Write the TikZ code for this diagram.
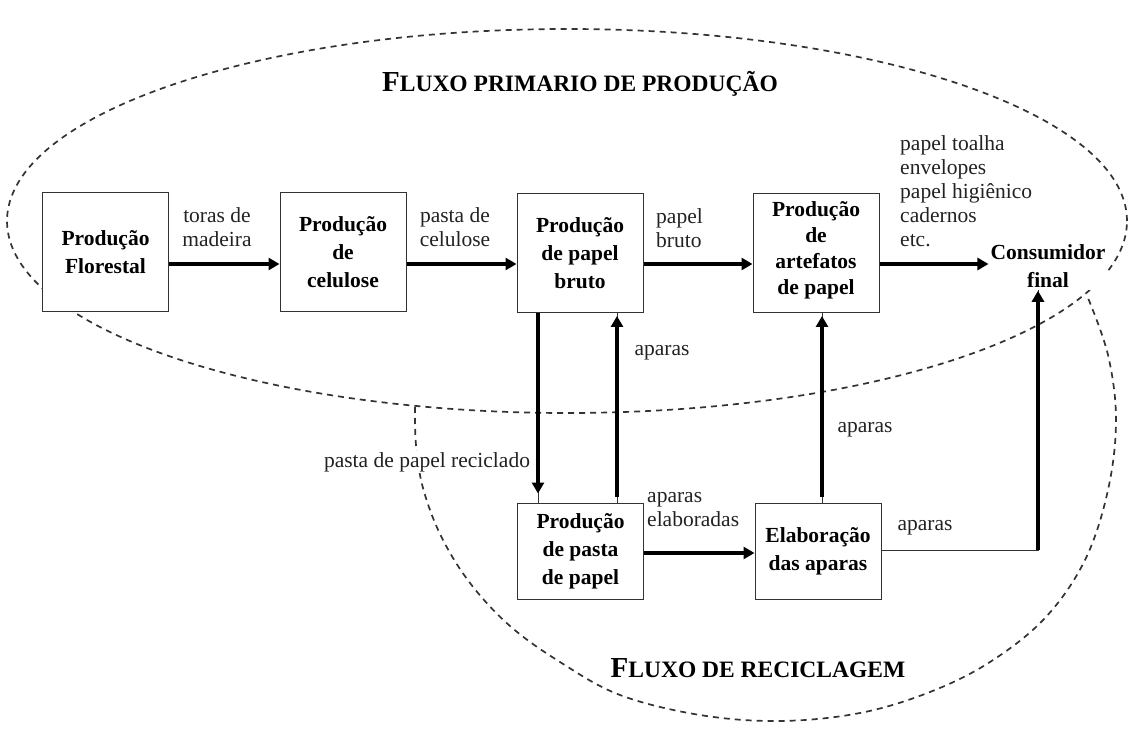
\documentclass[tikz,border=0pt]{standalone}
\usepackage{fontspec}
\setmainfont{Liberation Serif}
\usetikzlibrary{arrows.meta}
\definecolor{lbl}{HTML}{222222}
\definecolor{dsh}{HTML}{333333}
\tikzset{
  box/.style={draw=black!80, line width=1pt, fill=white, minimum width=126pt, minimum height=119pt, align=center, inner sep=0pt, font=\bfseries\fontsize{21.5}{28}\selectfont},
  sbox/.style={box, minimum height=96pt},
  lab/.style={text=lbl, inner sep=1pt, font=\fontsize{21.5}{24}\selectfont},
  arr/.style={line width=3.8pt, -{Triangle[length=11pt,width=12pt]}},
  thinl/.style={line width=0.9pt, draw=black!80},
  region/.style={draw=dsh, line width=1.7pt, dash pattern=on 6pt off 5pt},
  ttl/.style={fill=white, inner sep=3pt, anchor=base},
}
\begin{document}
\begin{tikzpicture}[x=1pt,y=-1pt]
\useasboundingbox (0,0) rectangle (1136,735);
% regions
\draw[region] (567,221) ellipse [x radius=560pt, y radius=192pt];
\draw[region] plot[smooth, tension=0.6] coordinates {(415,407) (416,445) (423,488) (441,536) (470,583) (510,626) (560,662) (620,695) (700,715) (780,721) (860,713) (930,692) (990,662) (1045,618) (1085,560) (1108,490) (1116,420) (1108,355) (1088,298)};
% titles
\node[ttl] (t1) at (580,92) {\bfseries{\fontsize{29}{30}\selectfont F}{\fontsize{23.5}{30}\selectfont LUXO PRIMARIO DE PRODUÇÃO}};
\node[ttl] (t2) at (758,677) {\bfseries{\fontsize{29}{30}\selectfont F}{\fontsize{23.5}{30}\selectfont LUXO DE RECICLAGEM}};
% boxes
\node[box] (b1) at (105.5,252.5) {Produção\\Florestal};
\node[box] (b2) at (343,252.5) {Produção\\de\\celulose};
\node[box] (b3) at (580,253) {Produção\\de papel\\bruto};
\node[box, font=\bfseries\fontsize{21.5}{26}\selectfont, text depth=9pt] (b4) at (816,253) {Produção\\de\\artefatos\\de papel};
\node[sbox] (b5) at (580.5,551) {Produção\\de pasta\\de papel};
\node[sbox] (b6) at (818,551) {Elaboração\\das aparas};
\node[fill=white, align=center, inner sep=2pt, font=\bfseries\fontsize{21.5}{28}\selectfont] (cons) at (1048,266) {Consumidor\\final};
% labels
\node[lab, align=center] (l1) at (217,227) {toras de\\madeira};
\node[lab, align=center] (l2) at (455,227) {pasta de\\celulose};
\node[lab, align=left, anchor=west] (l3) at (655,228) {papel\\bruto};
\node[lab, align=left, anchor=west] (l4) at (899,191) {papel toalha\\envelopes\\papel higiênico\\cadernos\\etc.};
\node[lab] (l5) at (662,353) {aparas};
\node[lab, fill=white] (l6) at (427,462) {pasta de papel reciclado};
\node[lab, align=left, anchor=west] (l7) at (646,510) {aparas\\elaboradas};
\node[lab] (l8) at (865,430) {aparas};
\node[lab] (l9) at (925,528) {aparas};
% helper coordinates
\coordinate (ya) at (0,264);
\coordinate (yb) at (0,553);
\coordinate (yc) at (0,550);
\coordinate (xa) at (538,0);
\coordinate (xb) at (617,0);
\coordinate (xc) at (822,0);
\coordinate (xd) at (1038,0);
% horizontal arrows
\draw[arr] (b1.east|-ya) -- (b2.west|-ya);
\draw[arr] (b2.east|-ya) -- (b3.west|-ya);
\draw[arr] (b3.east|-ya) -- (b4.west|-ya);
\draw[arr] (b4.east|-ya) -- (cons.west|-ya);
\draw[arr] (b5.east|-yb) -- (b6.west|-yb);
% vertical arrows
\draw[thinl] (b3.south-|xa) -- (b5.north-|xa);
\draw[arr, shorten >=9pt] (b3.south-|xa) -- (b5.north-|xa);
\draw[thinl] (b5.north-|xb) -- (b3.south-|xb);
\draw[arr, shorten <=6pt, shorten >=3pt] (b5.north-|xb) -- (b3.south-|xb);
\draw[thinl] (b6.north-|xc) -- (b4.south-|xc);
\draw[arr, shorten <=6pt, shorten >=3pt] (b6.north-|xc) -- (b4.south-|xc);
\draw[thinl] (b6.east|-yc) -| (cons.south-|xd);
\draw[arr, shorten >=1pt] (xd|-yc) -- (cons.south-|xd);
\end{tikzpicture}
\end{document}
